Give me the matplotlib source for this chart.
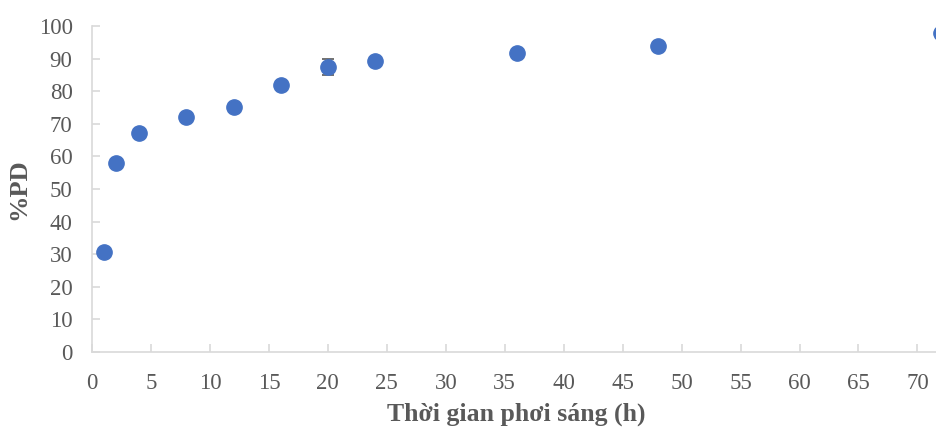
import matplotlib.pyplot as plt

# exposure time (h) vs %PD
hours = [1, 2, 4, 8, 12, 16, 20, 24, 36, 48, 72]
pd_pct = [30.7, 58.1, 67.1, 72.0, 75.1, 82.0, 87.5, 89.3, 91.6, 93.8, 97.8]
pd_err = [0.6, 0.8, 0.5, 0.4, 0.5, 0.4, 2.4, 0.4, 0.4, 0.4, 0.4]

x_ticks = list(range(0, 75, 5))
y_ticks = list(range(0, 110, 10))

plt.rcParams["font.family"] = ["Liberation Serif", "DejaVu Serif"]

fig = plt.figure(figsize=(9.36, 4.32), dpi=100)
ax = fig.add_axes([92 / 936, 80 / 432, 849 / 936, 326 / 432])

ax.errorbar(hours, pd_pct, yerr=pd_err, fmt="o", color="#4472C4",
            markersize=11, ecolor="#595959", elinewidth=1.2, capsize=4.3,
            capthick=1.2, zorder=3, clip_on=False)

ax.set_xlim(0, 72)
ax.set_ylim(0, 100)
ax.set_xticks(x_ticks)
ax.set_yticks(y_ticks)

for side in ("top", "right"):
    ax.spines[side].set_visible(False)
for side in ("left", "bottom"):
    ax.spines[side].set_color("#D9D9D9")
    ax.spines[side].set_linewidth(1.2)

ax.tick_params(direction="in", length=6, width=1.2, color="#D9D9D9",
               labelcolor="#595959", labelsize=16.5)
ax.tick_params(axis="x", pad=15)
ax.tick_params(axis="y", pad=14)

ax.set_xlabel("Thời gian phơi sáng (h)", fontsize=18.5, fontweight="bold",
              color="#595959", labelpad=6)
ax.set_ylabel("%PD", fontsize=19, fontweight="bold", color="#595959",
              labelpad=6)

fig.savefig("out.png", dpi=100)
